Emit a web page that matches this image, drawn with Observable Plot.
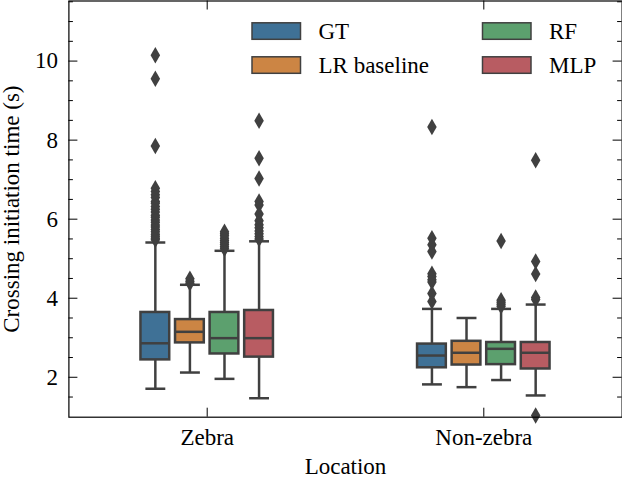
<!DOCTYPE html>
<html><head><meta charset="utf-8">
<script src="https://cdn.jsdelivr.net/npm/d3@7"></script>
<script src="https://cdn.jsdelivr.net/npm/@observablehq/plot@0.6"></script>
<style>
body{margin:0;background:#fff;}
#chart{position:relative;width:622px;height:478px;}
#chart svg, #chart svg text{font-family:"Liberation Serif","Times New Roman",Times,"DejaVu Serif",serif !important;}
</style>
</head><body><div id="chart"></div>
<script>
// ---- data ----
const locations = ["Zebra", "Non-zebra"];
const models = ["GT", "LR baseline", "RF", "MLP"];
const colors = ["#3f7196", "#cc8544", "#5ca06e", "#b85c62"];
// [whisker low, Q1, median, Q3, whisker high] per model
const zebraStats = [
  [1.71, 2.44, 2.86, 3.64, 5.41],
  [2.12, 2.87, 3.15, 3.46, 4.34],
  [1.96, 2.59, 2.99, 3.64, 5.20],
  [1.47, 2.51, 2.99, 3.69, 5.44]
];
const nonZebraStats = [
  [1.82, 2.24, 2.55, 2.84, 3.73],
  [1.75, 2.31, 2.62, 2.91, 3.50],
  [1.93, 2.32, 2.72, 2.88, 3.73],
  [1.54, 2.21, 2.62, 2.88, 3.84]
];
const zebraOutliers = [
  [10.15, 9.55, 7.85, 6.78, 6.7, 6.62, 6.55, 6.45, 6.4, 6.32, 6.25, 6.18, 6.1, 6.05, 5.98, 5.92, 5.85, 5.8, 5.74, 5.68, 5.62, 5.57, 5.52, 5.48],
  [4.38, 4.43, 4.49],
  [5.25, 5.3, 5.36, 5.41, 5.46, 5.52, 5.58, 5.63, 5.68],
  [8.49, 7.54, 7.03, 6.45, 6.36, 6.13, 5.96, 5.86, 5.78, 5.7, 5.63, 5.56, 5.5]
];
const nonZebraOutliers = [
  [8.33, 5.52, 5.35, 5.18, 4.62, 4.55, 4.47, 4.41, 4.12, 3.92],
  [],
  [5.45, 3.95, 3.9, 3.85, 3.8],
  [7.49, 4.93, 4.61, 4.02, 3.97, 1.03]
];
const yTicks = [2, 4, 6, 8, 10];
const yMinorTicks = [1.5, 2.5, 3, 3.5, 4.5, 5, 5.5, 6.5, 7, 7.5, 8.5, 9, 9.5, 10.5, 11, 11.5];
const xLabel = "Location";
const yLabel = "Crossing initiation time (s)";

// ---- build tables ----
const allStats = [zebraStats, nonZebraStats];
const allOutliers = [zebraOutliers, nonZebraOutliers];
const hueStep = 0.125;
const boxes = [];
const fliers = [];
allStats.forEach((stats, i) => {
  stats.forEach((s, j) => {
    const pos = i + (j - 1.5) * hueStep;
    boxes.push({loc: locations[i], model: models[j], pos, lo: s[0], q1: s[1], med: s[2], q3: s[3], hi: s[4]});
    allOutliers[i][j].forEach(v => fliers.push({model: models[j], pos, v}));
  });
});

// ---- layout ----
const W = 622, H = 478;
const mL = 68.4, mR = 0.4, mT = 0.5, mB = 61.3;
const innerW = W - mL - mR, innerH = H - mT - mB;
const hw = 0.052, cw = 0.036;
const lineCol = "#404040";
const lw = 2.5;
const font = "'Liberation Serif', 'Times New Roman', Times, 'DejaVu Serif', serif";

const plot = Plot.plot({
  width: W, height: H,
  marginLeft: mL, marginRight: mR, marginTop: mT, marginBottom: mB,
  style: {fontFamily: font, fontSize: "23px", background: "#fff", color: "#000"},
  x: {domain: [-0.5, 1.5], axis: null},
  y: {domain: [0.99, 11.52], axis: null},
  color: {domain: models, range: colors},
  marks: [
    Plot.link(boxes, {x1: "pos", x2: "pos", y1: "q3", y2: "hi", stroke: lineCol, strokeWidth: lw}),
    Plot.link(boxes, {x1: "pos", x2: "pos", y1: "lo", y2: "q1", stroke: lineCol, strokeWidth: lw}),
    Plot.link(boxes, {x1: d => d.pos - cw, x2: d => d.pos + cw, y1: "hi", y2: "hi", stroke: lineCol, strokeWidth: lw}),
    Plot.link(boxes, {x1: d => d.pos - cw, x2: d => d.pos + cw, y1: "lo", y2: "lo", stroke: lineCol, strokeWidth: lw}),
    Plot.rect(boxes, {x1: d => d.pos - hw, x2: d => d.pos + hw, y1: "q1", y2: "q3", fill: "model", stroke: lineCol, strokeWidth: lw}),
    Plot.link(boxes, {x1: d => d.pos - hw, x2: d => d.pos + hw, y1: "med", y2: "med", stroke: lineCol, strokeWidth: lw}),
    Plot.dot(fliers, {x: "pos", y: "v", symbol: "diamond", r: 5, fill: lineCol, stroke: "none"}),
    Plot.tickY(yTicks, {y: d => d, insetRight: innerW - 9, stroke: "#000", strokeWidth: 1}),
    Plot.tickY(yMinorTicks, {y: d => d, insetRight: innerW - 4.5, stroke: "#000", strokeWidth: 1}),
    Plot.tickY(yTicks, {y: d => d, insetLeft: innerW - 9, stroke: "#000", strokeWidth: 1}),
    Plot.tickY(yMinorTicks, {y: d => d, insetLeft: innerW - 4.5, stroke: "#000", strokeWidth: 1}),
    Plot.tickX([0, 1], {x: d => d, insetBottom: innerH - 9, stroke: "#000", strokeWidth: 1}),
    Plot.tickX([0, 1], {x: d => d, insetTop: innerH - 9, stroke: "#000", strokeWidth: 1}),
    Plot.frame({stroke: "#000", strokeWidth: 1.2}),
    Plot.axisY(yTicks, {tickSize: 0, tickPadding: 11, label: null, fontSize: 23}),
    Plot.axisX([0, 1], {tickSize: 0, tickPadding: 11, tickFormat: d => locations[d], label: null, fontSize: 23}),
    Plot.text([yLabel], {text: d => d, frameAnchor: "left", rotate: -90, dx: -57.3, textAnchor: "middle", lineAnchor: "middle", fontSize: 23}),
    Plot.text([xLabel], {text: d => d, frameAnchor: "bottom", dy: 49, textAnchor: "middle", lineAnchor: "middle", fontSize: 23})
  ]
});
document.getElementById("chart").appendChild(plot);

// ---- legend (inside the axes, two columns) ----
const svg = d3.select(plot);
const leg = svg.append("g").attr("font-family", font).attr("font-size", 23).attr("text-anchor", "start");
const legCols = [252, 482.5];
const legRows = [22.8, 56.8];
models.forEach((m, k) => {
  const c = Math.floor(k / 2), r = k % 2;
  leg.append("rect")
    .attr("x", legCols[c]).attr("y", legRows[r])
    .attr("width", 48.5).attr("height", 16.5)
    .attr("fill", colors[k]).attr("stroke", lineCol).attr("stroke-width", 1.5);
  leg.append("text")
    .attr("x", legCols[c] + 66.5).attr("y", legRows[r] + 16.5)
    .attr("fill", "#000").attr("text-anchor", "start")
    .text(m);
});
</script>
</body></html>
